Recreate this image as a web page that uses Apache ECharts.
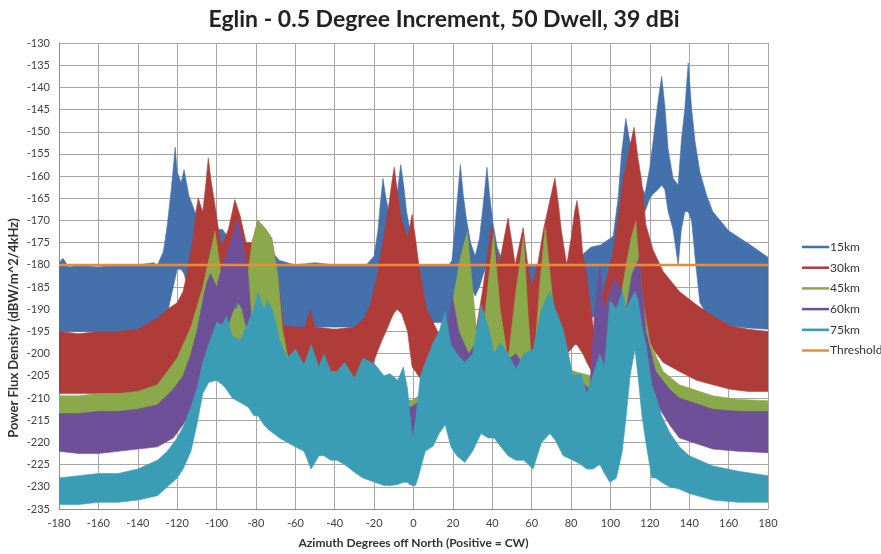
<!DOCTYPE html>
<html>
<head>
<meta charset="utf-8">
<script src="https://cdn.jsdelivr.net/npm/echarts@6/dist/echarts.min.js"></script>
<style>
html,body{margin:0;padding:0;background:#fff;}
#chart{width:881px;height:554px;}
</style>
</head>
<body>
<div id="chart"></div>
<script>
// ---- Data: [azimuth, upper edge, lower edge] of each noisy band ----
const X_TICKS = [-180,-160,-140,-120,-100,-80,-60,-40,-20,0,20,40,60,80,100,120,140,160,180];

const S_15KM = [[-180,-179.5,-195],[-178,-178.5,-195],[-175,-180.5,-195],[-170,-180,-195],[-160,-180.5,-195],[-150,-180,-195],[-140,-180,-195],[-132,-179.5,-194],[-130,-180,-194],[-127,-177,-193],[-125,-171,-191],[-123,-163,-187],[-121,-153.5,-183],[-120,-159,-181],[-118,-161.5,-181],[-116.5,-158.5,-182],[-114,-164.5,-186],[-112,-166.8,-190],[-108,-172,-190],[-104,-172,-190],[-97,-172,-190],[-92,-175,-190],[-86,-175,-191],[-80,-176,-192],[-74,-176,-193],[-68,-179,-194],[-60,-180,-194],[-50,-179.5,-194],[-40,-180,-194],[-30,-180,-194],[-24,-180,-194],[-20,-178,-192],[-18,-172,-190],[-16.8,-166,-187],[-15.5,-160.5,-185],[-14,-165,-184],[-12.5,-168,-183],[-10,-166,-183],[-8,-163,-181],[-6.5,-157.4,-180],[-5,-162,-182],[-3.5,-168,-185],[-1.5,-173,-188],[0,-176,-190],[2.5,-180,-192],[10,-180,-193],[18,-180,-193],[19.5,-179,-190],[21,-172,-187],[22.5,-164,-183],[23.8,-157.4,-180],[25.2,-164,-181],[27,-170,-183],[29,-175,-185],[31.3,-178,-187],[33.5,-174,-185],[35.5,-166,-182],[37.3,-158,-180],[38.8,-165,-182],[40.5,-171,-185],[42.5,-176,-188],[46,-180,-190],[60,-180,-192],[75,-180,-192],[85,-178,-192],[90,-176,-192],[95,-175.5,-191],[100,-174,-190],[101.4,-173.5,-188],[103.9,-165,-184],[105.6,-155,-176],[107.8,-147,-168],[109.8,-152,-170],[112,-156,-175],[114,-160.5,-172],[117.5,-164,-168],[120,-158,-165],[121.7,-152,-164],[124.2,-143,-163],[126,-137.5,-162],[127.6,-144,-163],[129.3,-154,-168],[131.8,-160.5,-172],[134.4,-162,-180],[136,-152,-172],[137.8,-144.7,-168],[139.5,-134.5,-168],[141.2,-144.7,-170],[142.9,-152,-178],[145.4,-159,-188.5],[148.8,-164.3,-191],[152,-168,-192],[160,-172.3,-193.7],[170,-175.2,-194.2],[180,-178.3,-194.5]];

const S_30KM = [[-180,-195,-209],[-170,-195.5,-209],[-160,-195,-209],[-150,-195,-209],[-140,-194.5,-209],[-130,-192,-208],[-125,-190,-206],[-120,-188.5,-204],[-117,-186,-202],[-115,-182,-200],[-113.5,-178,-198],[-112,-174,-197],[-110.5,-168,-195],[-109.3,-164.9,-193],[-107.8,-167,-191],[-107,-168,-190],[-105.5,-162,-188],[-104.2,-155.9,-186],[-102.8,-161,-186],[-101,-166,-186],[-99,-172,-188],[-97.4,-175.8,-190],[-94,-172,-190],[-92,-168,-188],[-90.7,-165.3,-186],[-88,-169,-188],[-85,-175,-192],[-82,-175,-195],[-79,-170,-196],[-75,-172,-198],[-72,-174,-200],[-69,-182,-203],[-66,-193.7,-205],[-60,-194,-206],[-55,-194,-206],[-52.5,-190,-207],[-50,-194,-206],[-40,-194.5,-207],[-30,-194,-206],[-25,-192,-205],[-22,-189,-204],[-18.7,-183,-200],[-16,-176,-197],[-13,-168,-194],[-11.2,-162,-192],[-9.8,-158,-190.8],[-8.3,-163,-190],[-6,-170,-191],[-3,-174,-195],[-0.7,-168.6,-203],[1,-174,-204],[2.4,-179,-205],[4.5,-185,-206],[6.7,-190,-207],[13.4,-196,-205],[17,-192,-203],[20,-193,-203],[24,-194,-200],[32,-194,-200],[35,-186,-200],[37.5,-178,-199],[39.6,-170.9,-198],[41.5,-176,-199],[43.5,-180,-200],[46,-174,-200],[48,-169.4,-200],[50,-175,-200],[51.6,-180,-201],[53.5,-176,-201],[55.7,-171.6,-200],[58,-180,-202],[60,-185,-203],[63,-180,-200],[66,-172,-198],[69,-166,-196],[71.8,-160.4,-195],[73.5,-166,-197],[75,-172,-199],[77.8,-180,-200],[80,-174,-199],[81.8,-168,-198],[83,-165.5,-198],[84.5,-170,-199],[86,-178,-200],[88,-182.5,-202],[91.6,-195.3,-205],[95,-190,-204],[98,-183,-200],[101.4,-177,-198],[104,-169,-195],[106.4,-161,-192],[109.5,-154,-188],[112,-149,-185],[114,-156,-187],[115.8,-161,-190],[118,-171,-195],[121.7,-176.7,-199],[126.8,-181.5,-202],[135,-186,-204],[143.7,-189,-206],[152,-191.5,-207],[160.7,-193.7,-208],[170,-194.5,-208.5],[180,-195,-208.5]];

const S_45KM = [[-180,-209.5,-214],[-170,-209.5,-214],[-160,-209,-214],[-150,-209,-214],[-140,-208.5,-214],[-130,-207,-213],[-120,-201,-210],[-113,-194,-206],[-107,-185,-202],[-103,-177,-198],[-100.8,-172.4,-195],[-99,-178,-196],[-97,-184,-198],[-94,-188,-198],[-90,-190,-200],[-85,-185,-200],[-82,-175,-198],[-79,-170,-196],[-75,-172,-198],[-72,-174,-200],[-69,-182,-204],[-66.5,-194.5,-206],[-64,-200.5,-208],[-59,-204,-210],[-50,-205,-211],[-40,-208,-212],[-30,-209,-213],[-20,-210,-213],[-10,-210,-213],[-1,-210.5,-213],[5,-209,-213],[10,-205,-212],[15,-200,-210],[20,-188,-206],[24,-178,-204],[27.3,-172.5,-203],[30,-185,-204],[33.6,-202.8,-206],[37,-188,-204],[40.6,-173,-203],[44,-190,-203],[48,-201.5,-205],[52,-186,-204],[55.9,-173.5,-203],[58,-190,-205],[60.6,-206,-208],[64,-185,-205],[66.9,-171.5,-203],[70,-185,-204],[73,-198,-206],[78.3,-203.5,-207],[82,-204,-208],[86,-204.5,-209],[90,-205,-210],[95,-200,-209],[100,-195,-207],[105,-188,-204],[108,-180,-200],[110.5,-174,-198],[112.9,-170.1,-196],[114.5,-180,-199],[116.6,-188.5,-202],[120,-197.5,-205],[126.8,-204,-209],[135,-207,-212],[152,-209.5,-213],[165,-210.3,-213.5],[180,-210.6,-214]];

const S_60KM = [[-180,-213.5,-222],[-170,-213.5,-222.5],[-160,-213,-222.5],[-150,-213,-222],[-140,-212.5,-221.5],[-130,-211.5,-221],[-122,-208,-219],[-117,-205,-216],[-113,-200,-213],[-110,-195,-210],[-107,-188,-206],[-105,-184,-204],[-103,-182,-202],[-100,-185,-200],[-97,-180,-198],[-93,-175,-192],[-89.6,-169.8,-188],[-87,-174,-190],[-84,-182,-196],[-82,-194.5,-203],[-79,-196,-205],[-75,-195,-206],[-70,-198,-208],[-65,-201,-209],[-60,-204,-211],[-50,-206,-214],[-40,-209,-216],[-30,-210,-218],[-20,-211,-219],[-10,-211.5,-220],[-1,-212,-221],[5,-210,-219],[10,-206,-216],[15,-200,-212],[19.7,-187,-207],[23,-195,-208],[28,-200,-210],[34,-196,-210],[40,-200,-210],[46,-202,-211],[52,-200,-211],[58,-204,-212],[63,-203,-212],[67,-196,-210],[72,-200,-211],[78,-205,-212],[84,-206,-214],[89.5,-208,-216],[92,-190,-210],[94.6,-180,-205],[97,-190,-205],[102,-183,-204],[105,-185,-202],[108,-190,-203],[111,-182,-200],[114.6,-178.5,-198],[118,-195,-204],[123,-204,-211],[130,-208,-216],[135,-210,-219],[152,-212.5,-221.5],[165,-213,-222],[180,-213,-222.3]];

const S_75KM = [[-180,-228,-234],[-170,-227.5,-234],[-160,-227,-233.5],[-150,-227,-233.5],[-140,-226,-233],[-130,-224,-232],[-125,-222,-230],[-120,-219,-228],[-117,-216.5,-226],[-113,-212,-222],[-110,-208,-216],[-107,-202,-209],[-104,-198,-206.5],[-100,-193,-206],[-97,-193.5,-207],[-95,-191.5,-208],[-92,-196,-210],[-88,-197,-211],[-84,-193,-212],[-81,-190,-214],[-79,-186,-214],[-76,-190,-216],[-74,-188,-217],[-71,-191,-218],[-68,-197,-219],[-64,-201,-220],[-60,-199,-221],[-55.6,-202.5,-222],[-52,-198,-226],[-48,-203,-223],[-45.5,-200,-223],[-42,-204,-224],[-39,-204,-224],[-35,-202,-225],[-30,-205.5,-226.7],[-25.7,-201,-228],[-19.6,-202.4,-229],[-15,-205,-229.7],[-12,-204.5,-229.7],[-8,-206,-229.5],[-5.2,-203,-229],[-3,-208,-229],[-2,-213,-229.5],[-0.5,-219,-229.7],[1,-215,-229.7],[2.3,-210,-228],[3.5,-205,-226],[6,-202,-222],[10,-197.5,-220.8],[13,-195,-218],[16.1,-190.5,-216],[19,-198,-221],[22,-200,-223],[26,-202,-224.5],[30,-200,-222],[34.3,-189,-218],[38,-194,-219],[41,-200,-219],[44,-197.5,-220.8],[48,-200,-223],[52,-203.5,-224],[56,-200,-224],[60.7,-199,-226],[65,-190,-220],[69.3,-186,-218],[72,-190,-219.5],[76,-194.5,-223],[81,-205,-224],[85,-204.5,-225],[88,-209,-226],[91,-205,-226],[94.6,-200,-225],[97,-203,-227],[99.7,-188,-229],[103,-190,-228],[106,-186,-222],[108,-190,-214],[110,-188,-205],[112.4,-186,-199],[114,-188,-205],[116,-194,-214],[118,-198,-220],[121,-207,-228],[123,-209.5,-228],[126,-214,-229],[130,-217.7,-230],[135,-221,-230.5],[140,-223,-231.5],[152,-225.3,-233],[165,-226.5,-233.5],[180,-227.5,-233.5]];

const THRESHOLD = [[-180, -180], [180, -180]];

const NAMES  = ['15km','30km','45km','60km','75km','Threshold'];
const COLORS = ['#4470AC','#B03C3A','#8AA94B','#6E5099','#3B9DB5','#EE8A35'];

// ---- Build series: each band is one polygon (upper edge forward, lower edge back) ----
function band(name, pts, color, z) {
  return {
    name: name, type: 'custom', coordinateSystem: 'cartesian2d', z: z, silent: true,
    clip: true, color: color, itemStyle: { color: color },
    encode: { x: 0, y: [1, 2] },
    data: pts,
    renderItem: function (params, api) {
      if (params.dataIndex !== 0) return null;
      const poly = [];
      for (let i = 0; i < pts.length; i++) poly.push(api.coord([pts[i][0], pts[i][1]]));
      for (let i = pts.length - 1; i >= 0; i--) poly.push(api.coord([pts[i][0], pts[i][2]]));
      return {
        type: 'polygon',
        shape: { points: poly },
        style: { fill: color, stroke: color, lineWidth: 0.6 }
      };
    }
  };
}
const BANDS = [S_15KM, S_30KM, S_45KM, S_60KM, S_75KM];
const series = BANDS.map((b, k) => band(NAMES[k], b, COLORS[k], 2 + k));
series.push({
  name: 'Threshold', type: 'line', symbol: 'none', silent: true, z: 10,
  data: THRESHOLD, color: COLORS[5], lineStyle: { width: 2.5, color: COLORS[5] }
});

const FONT = 'Lato, "Liberation Sans", sans-serif';
const chart = echarts.init(document.getElementById('chart'), null, { renderer: 'canvas' });
chart.setOption({
  animation: false,
  backgroundColor: '#ffffff',
  title: {
    text: 'Eglin - 0.5 Degree Increment, 50 Dwell, 39 dBi',
    left: 439, top: 3, textAlign: 'center',
    textStyle: { fontFamily: FONT, fontWeight: 'bold', fontSize: 23, color: '#222' }
  },
  grid: { left: 59, right: 113, top: 43, bottom: 44, containLabel: false },
  legend: {
    orient: 'vertical', left: 797, top: 235,
    itemWidth: 27, itemHeight: 2.5, itemGap: 6.7, icon: 'rect',
    textStyle: { fontFamily: FONT, fontSize: 12, color: '#333', lineHeight: 14, padding: [0, 0, 0, -4] },
    data: NAMES.map((n, i) => ({ name: n, itemStyle: { color: COLORS[i] } })),
    selectedMode: false
  },
  xAxis: {
    type: 'value', min: -180, max: 180, interval: 20,
    name: 'Azimuth Degrees off North (Positive = CW)', nameLocation: 'middle', nameGap: 28,
    nameTextStyle: { fontFamily: FONT, fontWeight: 'bold', fontSize: 12, color: '#333' },
    axisLine: { show: true, onZero: false, lineStyle: { color: '#8c8c8c', width: 1 } },
    axisTick: { show: false },
    axisLabel: { fontFamily: FONT, fontSize: 11, color: '#404040', margin: 9,
      formatter: v => (X_TICKS.indexOf(v) >= 0 ? String(v) : '') },
    splitLine: { show: true, lineStyle: { color: '#a6a6a6', width: 1 } }
  },
  yAxis: {
    type: 'value', min: -235, max: -130, interval: 5,
    axisLine: { show: true, onZero: false, lineStyle: { color: '#8c8c8c', width: 1 } },
    axisTick: { show: false },
    axisLabel: { fontFamily: FONT, fontSize: 11, color: '#404040', margin: 9 },
    splitLine: { show: true, lineStyle: { color: '#a6a6a6', width: 1 } }
  },
  graphic: [{
    type: 'text', x: 14, y: 328, rotation: Math.PI / 2,
    style: { text: 'Power Flux Density (dBW/m^2/4kHz)', fontFamily: FONT, fontWeight: 'bold',
      fontSize: 13, fill: '#333', textAlign: 'center', textVerticalAlign: 'middle' }
  }],
  series: series
});
</script>
</body>
</html>
